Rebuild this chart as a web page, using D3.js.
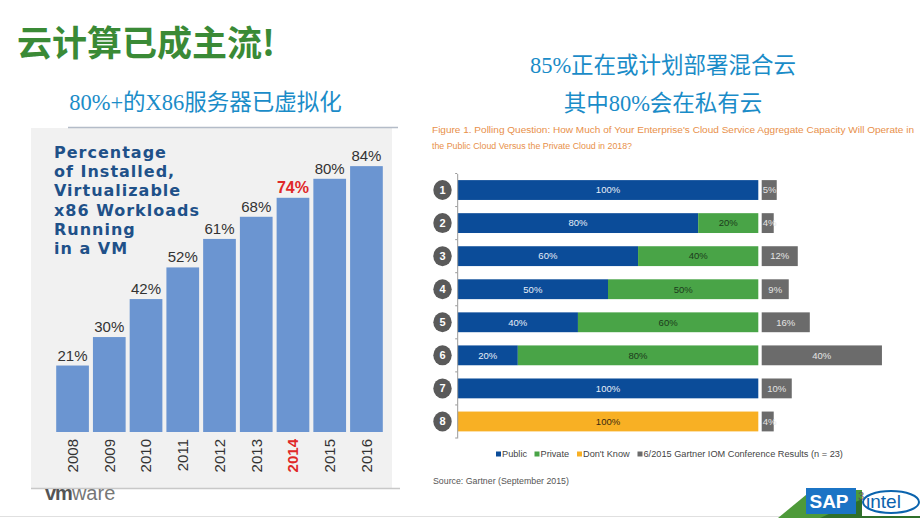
<!DOCTYPE html>
<html><head><meta charset="utf-8">
<script src="https://cdn.jsdelivr.net/npm/d3@7"></script>
<style>
html,body{margin:0;padding:0;background:#fff;}
svg{display:block;}
</style>
</head><body>
<svg id="c" width="920" height="518"></svg>
<script>
// ---------- data ----------
const years = ["2008","2009","2010","2011","2012","2013","2014","2015","2016"];
const virtualized = [21,30,42,52,61,68,74,80,84];
const highlightYear = "2014";

const rows = ["1","2","3","4","5","6","7","8"];
const publicVals  = [100,80,60,50,40,20,100,0];
const privateVals = [0,20,40,50,60,80,0,0];
const dontKnowVals= [0,0,0,0,0,0,0,100];
const gartnerVals = [5,4,12,9,16,40,10,4];
const seriesNames = ["Public","Private","Don't Know","6/2015 Gartner IOM Conference Results (n = 23)"];

const svg = d3.select("#c");

// ---------- headings ----------
svg.append("text").attr("x",17).attr("y",56)
  .attr("font-family","'Noto Sans CJK SC',sans-serif").attr("font-weight","bold")
  .attr("font-size",35).attr("fill","#3a8a36").text("云计算已成主流!");

const subFont = "'Liberation Serif','Noto Sans CJK SC',serif";
svg.append("text").attr("x",205.5).attr("y",110).attr("text-anchor","middle")
  .attr("font-family",subFont).attr("font-size",22.5).attr("fill","#1a8cc8")
  .text("80%+的X86服务器已虚拟化");
svg.append("text").attr("x",663).attr("y",73).attr("text-anchor","middle")
  .attr("font-family",subFont).attr("font-size",22.5).attr("fill","#1a8cc8")
  .text("85%正在或计划部署混合云");
svg.append("text").attr("x",663).attr("y",111).attr("text-anchor","middle")
  .attr("font-family",subFont).attr("font-size",22.5).attr("fill","#1a8cc8")
  .text("其中80%会在私有云");

// ---------- left chart ----------
const L = svg.append("g");
L.append("rect").attr("x",31).attr("y",128).attr("width",361).attr("height",360).attr("fill","#f1f1f1");
L.append("line").attr("x1",68).attr("x2",398).attr("y1",127.5).attr("y2",127.5).attr("stroke","#b4bcc8").attr("stroke-width",1.5);
L.append("line").attr("x1",31).attr("x2",400).attr("y1",488.5).attr("y2",488.5).attr("stroke","#c8c8c8").attr("stroke-width",1.5);

const xL = d3.scaleBand().domain(years).range([54,385]).paddingInner(0.11).paddingOuter(0.06);
const yL = d3.scaleLinear().domain([0,100]).range([432,115.5]);

L.selectAll("rect.bar").data(years).join("rect").attr("class","bar")
  .attr("x",d=>xL(d)).attr("width",xL.bandwidth())
  .attr("y",(d,i)=>yL(virtualized[i])).attr("height",(d,i)=>yL(0)-yL(virtualized[i]))
  .attr("fill","#6b95d1");

L.selectAll("text.val").data(years).join("text").attr("class","val")
  .attr("x",d=>xL(d)+xL.bandwidth()/2).attr("y",(d,i)=>yL(virtualized[i])-5)
  .attr("text-anchor","middle").attr("font-family","'Liberation Sans',Arial,sans-serif")
  .attr("font-size",d=>d===highlightYear?16:15)
  .attr("font-weight",d=>d===highlightYear?"bold":"normal")
  .attr("fill",d=>d===highlightYear?"#e02828":"#333")
  .text((d,i)=>virtualized[i]+"%");

const axL = d3.axisBottom(xL).tickSize(0).tickPadding(0);
const gax = L.append("g").attr("transform","translate(0,439)").call(axL);
gax.select(".domain").remove();
gax.selectAll("text")
  .attr("transform","rotate(-90)").attr("text-anchor","end")
  .attr("x",0).attr("y",0).attr("dy","0.36em")
  .attr("font-family","'Liberation Sans',Arial,sans-serif").attr("font-size",15)
  .attr("font-weight",d=>d===highlightYear?"bold":"normal")
  .attr("fill",d=>d===highlightYear?"#e02828":"#333");

const titleLines = ["Percentage","of Installed,","Virtualizable","x86 Workloads","Running","in a VM"];
L.append("text").attr("font-family","'DejaVu Sans',sans-serif").attr("font-weight","bold")
  .attr("font-size",16).attr("letter-spacing",1).attr("fill","#1f5189")
  .selectAll("tspan").data(titleLines).join("tspan")
  .attr("x",54).attr("y",(d,i)=>158+i*19.2).text(d=>d);

svg.append("text").attr("x",45).attr("y",500).attr("font-family","'Liberation Sans',Arial,sans-serif")
  .attr("font-size",20).attr("fill","#555")
  .call(t=>{t.append("tspan").attr("font-weight","bold").attr("letter-spacing",-1).text("vm");
            t.append("tspan").attr("fill","#777").text("ware");});
svg.append("line").attr("x1",0).attr("x2",800).attr("y1",516.5).attr("y2",516.5).attr("stroke","#e0e0e0");

// ---------- right chart ----------
const R = svg.append("g");
const capFont = "'Liberation Sans',Arial,sans-serif";
R.append("text").attr("x",432).attr("y",133).attr("font-family",capFont).attr("font-size",9.6)
  .attr("fill","#e8904a").attr("textLength",482).attr("lengthAdjust","spacingAndGlyphs")
  .text("Figure 1. Polling Question: How Much of Your Enterprise's Cloud Service Aggregate Capacity Will Operate in");
R.append("text").attr("x",432).attr("y",149).attr("font-family",capFont).attr("font-size",9.6)
  .attr("fill","#e8904a").attr("textLength",200).attr("lengthAdjust","spacingAndGlyphs")
  .text("the Public Cloud Versus the Private Cloud in 2018?");

const yR = d3.scaleBand().domain(rows).range([173.5,438]).paddingInner(0.4).paddingOuter(0.2);
const xR = d3.scaleLinear().domain([0,100]).range([457.7,758.3]);

const table = rows.map((r,i)=>({row:r, Public:publicVals[i], Private:privateVals[i], DontKnow:dontKnowVals[i]}));
const keys = ["Public","Private","DontKnow"];
const colors = {Public:"#0b4c99", Private:"#49a447", DontKnow:"#f8b024"};
const labelColors = {Public:"#e8eef8", Private:"#1c3b1c", DontKnow:"#3a2a10"};
const stacked = d3.stack().keys(keys)(table);

stacked.forEach(s=>{
  const g = R.append("g");
  g.selectAll("rect").data(s.filter(d=>d[1]>d[0])).join("rect")
    .attr("x",d=>xR(d[0])).attr("width",d=>xR(d[1])-xR(d[0]))
    .attr("y",d=>yR(d.data.row)).attr("height",yR.bandwidth())
    .attr("fill",colors[s.key]);
  g.selectAll("text").data(s.filter(d=>d[1]>d[0])).join("text")
    .attr("x",d=>(xR(d[0])+xR(d[1]))/2).attr("y",d=>yR(d.data.row)+yR.bandwidth()/2)
    .attr("dy","0.35em").attr("text-anchor","middle")
    .attr("font-family",capFont).attr("font-size",9.5).attr("fill",labelColors[s.key])
    .text(d=>(d[1]-d[0])+"%");
});

// gartner gray bars
const gx0 = 761.7;
const xG = d3.scaleLinear().domain([0,100]).range([gx0, gx0+(xR(100)-xR(0))]);
R.selectAll("rect.g").data(rows).join("rect").attr("class","g")
  .attr("x",xG(0)).attr("width",(d,i)=>xG(gartnerVals[i])-xG(0))
  .attr("y",d=>yR(d)).attr("height",yR.bandwidth()).attr("fill","#6b6b6b");
R.selectAll("text.g").data(rows).join("text").attr("class","g")
  .attr("x",(d,i)=>gartnerVals[i]<8 ? xG(0)+1 : (xG(0)+xG(gartnerVals[i]))/2)
  .attr("text-anchor",(d,i)=>gartnerVals[i]<8?"start":"middle")
  .attr("y",d=>yR(d)+yR.bandwidth()/2).attr("dy","0.35em")
  .attr("font-family",capFont).attr("font-size",9.5).attr("fill","#e4e4e4")
  .text((d,i)=>gartnerVals[i]+"%");

// y axis
const axR = d3.axisLeft(yR).tickSize(0).tickFormat("");
const gyr = R.append("g").attr("transform",`translate(${xR(0)-0.5},0)`).call(axR);
gyr.select(".domain").attr("stroke","#999");
const bounds = rows.map(r=>yR(r)-yR.step()*yR.paddingInner()/2).concat([yR(rows[rows.length-1])+yR.bandwidth()+yR.step()*yR.paddingInner()/2]);
R.selectAll("line.tk").data(bounds).join("line").attr("class","tk")
  .attr("x1",xR(0)-2.5).attr("x2",xR(0)-0.5).attr("y1",d=>d).attr("y2",d=>d).attr("stroke","#999");

// numbered circles
const cg = R.selectAll("g.num").data(rows).join("g").attr("class","num")
  .attr("transform",d=>`translate(442.5,${yR(d)+yR.bandwidth()/2})`);
cg.append("ellipse").attr("rx",9.2).attr("ry",10).attr("fill","#5a5a5a");
cg.append("text").attr("text-anchor","middle").attr("dy","0.36em")
  .attr("font-family",capFont).attr("font-weight","bold").attr("font-size",11).attr("fill","#fff").text(d=>d);

// legend
const legendColors = [colors.Public, colors.Private, colors.DontKnow, "#6b6b6b"];
const legendX = [496, 534.5, 577, 637.5];
const lg = R.selectAll("g.lg").data(seriesNames).join("g").attr("class","lg")
  .attr("transform",(d,i)=>`translate(${legendX[i]},457)`);
lg.append("rect").attr("x",0).attr("y",-5.5).attr("width",5).attr("height",5).attr("fill",(d,i)=>legendColors[i]);
lg.append("text").attr("x",6).attr("y",0).attr("font-family",capFont).attr("font-size",9.2).attr("fill","#444").text(d=>d);

R.append("text").attr("x",433).attr("y",484).attr("font-family",capFont).attr("font-size",8.8)
  .attr("fill","#555").text("Source: Gartner (September 2015)");

// ---------- bottom-right logos ----------
const B = svg.append("g");
B.append("polygon").attr("points","778,518 812,490 920,490 920,518").attr("fill","#4e9a3a");
B.append("polygon").attr("points","820,518 860,500 920,500 920,518").attr("fill","#2f6f2a");
B.append("rect").attr("x",806).attr("y",488).attr("width",50).attr("height",26).attr("fill","#1b74c5");
B.append("text").attr("x",829).attr("y",508).attr("text-anchor","middle").attr("font-family",capFont)
  .attr("font-weight","bold").attr("font-size",19).attr("fill","#fff").text("SAP");
B.append("rect").attr("x",862).attr("y",488).attr("width",58).attr("height",28).attr("fill","#fff");
B.append("text").attr("x",866).attr("y",508).attr("font-family",capFont).attr("font-size",19)
  .attr("fill","#0a63ad").text("intel");
B.append("ellipse").attr("cx",891).attr("cy",502).attr("rx",28).attr("ry",11).attr("fill","none").attr("stroke","#0a63ad").attr("stroke-width",2);
B.append("text").attr("x",858).attr("y",500).attr("font-family",capFont).attr("font-size",11).attr("fill","#555").text("3");
</script>
</body></html>
